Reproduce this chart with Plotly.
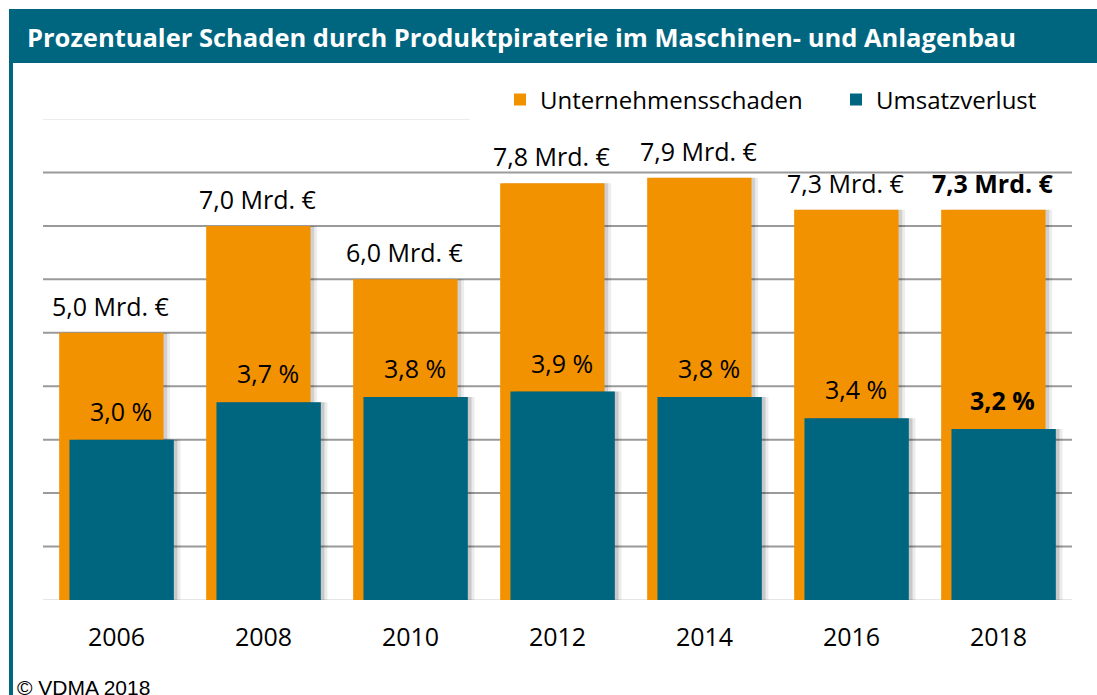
import plotly.graph_objects as go

# ---- data ----
years = ["2006", "2008", "2010", "2012", "2014", "2016", "2018"]
damage_bn = [5.0, 7.0, 6.0, 7.8, 7.9, 7.3, 7.3]          # Unternehmensschaden (Mrd. €)
loss_pct = [3.0, 3.7, 3.8, 3.9, 3.8, 3.4, 3.2]            # Umsatzverlust (%)
bold_last = [False, False, False, False, False, False, True]
gridlines = [1, 2, 3, 4, 5, 6, 7, 8]

ORANGE = "#F39200"
TEAL = "#006680"
FONT = "Open Sans"

def de(v):
    return f"{v:.1f}".replace(".", ",")

W, H = 1097, 695
L, R, T, B = 43, 25, 119, 95
pw, ph = W - L - R, H - T - B

def px(x):
    return (x - L) / pw

def py(y):
    return (H - B - y) / ph

fig = go.Figure()

BAR_W = 0.71
OFF_O = -0.39
OFF_T = -0.32

# soft shadows (two layers)
for sh, a in [(0.045, 0.07), (0.025, 0.12)]:
    fig.add_trace(go.Bar(x=years, y=damage_bn, width=BAR_W, offset=OFF_O + sh,
                         marker=dict(color=f"rgba(0,0,0,{a})", line_width=0),
                         showlegend=False, hoverinfo="skip"))
fig.add_trace(go.Bar(x=years, y=damage_bn, name="Unternehmensschaden", width=BAR_W, offset=OFF_O,
                     marker=dict(color=ORANGE, line_width=0), legend="legend"))
for sh, a in [(0.045, 0.08), (0.025, 0.14)]:
    fig.add_trace(go.Bar(x=years, y=loss_pct, width=BAR_W, offset=OFF_T + sh,
                         marker=dict(color=f"rgba(0,0,0,{a})", line_width=0),
                         showlegend=False, hoverinfo="skip"))
fig.add_trace(go.Bar(x=years, y=loss_pct, name="Umsatzverlust", width=BAR_W, offset=OFF_T,
                     marker=dict(color=TEAL, line_width=0), legend="legend2"))

annotations = []
for i, yr in enumerate(years):
    t1 = f"{de(damage_bn[i])} Mrd. €"
    t2 = f"{de(loss_pct[i])} %"
    if bold_last[i]:
        t1 = f"<b>{t1}</b>"
        t2 = f"<b>{t2}</b>"
    annotations.append(dict(x=i, y=damage_bn[i], xref="x", yref="y", text=t1,
                            showarrow=False, yanchor="middle", yshift=27, xshift=-6,
                            font=dict(family=FONT, size=25, color="#000")))
    annotations.append(dict(x=i, y=loss_pct[i], xref="x", yref="y", text=t2,
                            showarrow=False, yanchor="middle", yshift=29, xshift=4,
                            font=dict(family=FONT, size=25, color="#000")))

shapes = []
for g in gridlines:
    shapes.append(dict(type="line", xref="paper", yref="y", x0=0, x1=1, y0=g, y1=g,
                       line=dict(color="#9a9a9a", width=2), layer="below"))
shapes.append(dict(type="line", xref="paper", yref="y", x0=0, x1=1, y0=0, y1=0,
                   line=dict(color="#e6e6e6", width=2), layer="below"))
shapes.append(dict(type="line", xref="paper", yref="y", x0=0, x1=0.415, y0=9, y1=9,
                   line=dict(color="#ececec", width=2), layer="below"))

# title bar
shapes.append(dict(type="rect", xref="paper", yref="paper", x0=px(9), x1=px(1097), y0=py(63), y1=py(9),
                   fillcolor=TEAL, line_width=0, layer="above"))
# left border
shapes.append(dict(type="rect", xref="paper", yref="paper", x0=px(9), x1=px(13), y0=py(700), y1=py(63),
                   fillcolor=TEAL, line_width=0, layer="above"))

annotations.append(dict(x=px(25), y=py(37), xref="paper", yref="paper", xanchor="left", yanchor="middle",
                        text="<b>Prozentualer Schaden durch Produktpiraterie im Maschinen- und Anlagenbau</b>",
                        showarrow=False, font=dict(family=FONT, size=25.5, color="white")))
annotations.append(dict(x=px(15), y=py(674), xref="paper", yref="paper", xanchor="left", yanchor="top",
                        text="© VDMA 2018", showarrow=False,
                        font=dict(family="Liberation Sans", size=21, color="#000")))

leg_common = dict(orientation="h", yanchor="middle", y=py(100), xanchor="left",
                  font=dict(family=FONT, size=24, color="#000"), bgcolor="rgba(0,0,0,0)",
                  itemwidth=30)

fig.update_layout(
    width=W, height=H, autosize=False,
    margin=dict(l=L, r=R, t=T, b=B),
    paper_bgcolor="white", plot_bgcolor="rgba(0,0,0,0)",
    barmode="overlay",
    shapes=shapes, annotations=annotations,
    legend=dict(x=px(500), **leg_common),
    legend2=dict(x=px(836), **leg_common),
    xaxis=dict(type="category", range=[-0.5, 6.5], showgrid=False, showline=False, zeroline=False,
               ticks="", ticklabelstandoff=20, tickfont=dict(family=FONT, size=25, color="#000")),
    yaxis=dict(range=[0, 9], showgrid=False, zeroline=False, showticklabels=False, showline=False),
    font=dict(family=FONT),
)

fig.write_html("out.html", config={"displayModeBar": False},
               post_script="document.body.style.margin='0px';")
